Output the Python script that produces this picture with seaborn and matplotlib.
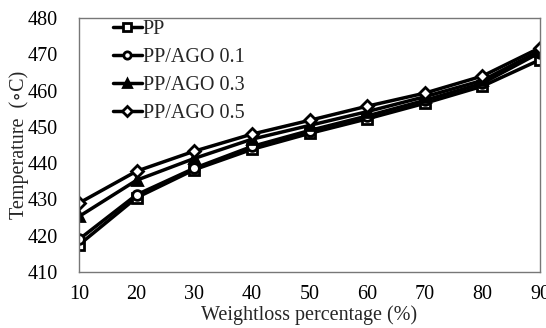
import numpy as np
import pandas as pd
import matplotlib
matplotlib.use("Agg")
import matplotlib.pyplot as plt
import seaborn as sns

# Datos
weightloss = [10, 20, 30, 40, 50, 60, 70, 80, 90]
pp = [417.5, 430.5, 438.2, 443.8, 448.2, 452.2, 456.5, 461.2, 468.5]
pp_ago_01 = [419.0, 431.3, 438.6, 444.6, 449.0, 453.0, 457.3, 462.0, 470.5]
pp_ago_03 = [425.3, 435.3, 441.3, 446.6, 450.4, 454.2, 458.3, 462.8, 471.0]
pp_ago_05 = [429.0, 437.8, 443.3, 448.0, 451.8, 455.7, 459.3, 464.0, 471.8]

series = {
    "PP": pp,
    "PP/AGO 0.1": pp_ago_01,
    "PP/AGO 0.3": pp_ago_03,
    "PP/AGO 0.5": pp_ago_05,
}
marcadores = {"PP": "s", "PP/AGO 0.1": "o", "PP/AGO 0.3": "^", "PP/AGO 0.5": "D"}
relleno = {"PP": "white", "PP/AGO 0.1": "white", "PP/AGO 0.3": "black", "PP/AGO 0.5": "white"}
tamanio = {"PP": 7, "PP/AGO 0.1": 7, "PP/AGO 0.3": 7.5, "PP/AGO 0.5": 6.5}

sns.set_style("white")
plt.rcParams["font.family"] = ["Liberation Serif", "DejaVu Serif"]

fig = plt.figure(figsize=(5.46, 3.28), dpi=100)
ax = fig.add_axes([0.1447, 0.1707, 0.8443, 0.7743])

for nombre, valores in series.items():
    df = pd.DataFrame({"x": weightloss, "y": valores})
    sns.lineplot(data=df, x="x", y="y", ax=ax, color="black", linewidth=2.5,
                 marker=marcadores[nombre], markersize=tamanio[nombre],
                 markerfacecolor=relleno[nombre], markeredgecolor="black",
                 markeredgewidth=2, label=nombre)

ax.set_xlim(10, 90)
ax.set_ylim(410, 480)
ax.set_xticks(range(10, 91, 10))
ax.set_yticks(range(410, 481, 10))
ax.tick_params(axis="both", direction="in", length=4, width=0.8, labelsize=14.5,
               colors="#555555", labelcolor="black")
ax.tick_params(axis="x", pad=9)
ax.tick_params(axis="y", pad=15)
ax.set_xlabel("Weightloss percentage (%)", fontsize=14.5, labelpad=1)
ax.set_ylabel("Temperature  (\u2218C)", fontsize=14.5, labelpad=-1)

for lado in ["top", "right", "left", "bottom"]:
    ax.spines[lado].set_visible(True)
    ax.spines[lado].set_color("#777777")
    ax.spines[lado].set_linewidth(1.0)

ax.legend(loc="upper left", frameon=False, fontsize=14.5, handlelength=1.4,
          handletextpad=0.05, labelspacing=0.45, borderaxespad=0.0,
          markerscale=0.75, bbox_to_anchor=(0.057, 1.025))

plt.savefig("out.png", dpi=100)
